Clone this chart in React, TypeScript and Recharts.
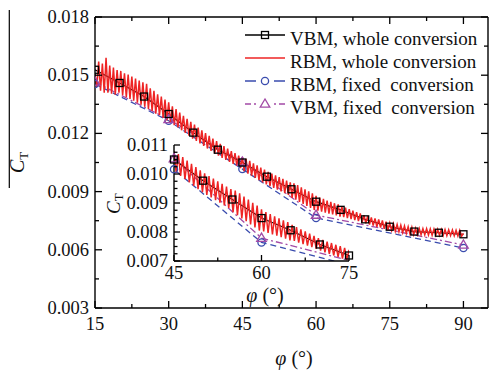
import React from 'react';
import { LineChart, Line, XAxis, YAxis } from 'recharts';

const FONT = '"Liberation Serif", "Times New Roman", serif';
const RED = '#ee2424';
const BLUE = '#3a4cae';
const PURPLE = '#a24aa6';
const BLACK = '#000000';

// ---------- data ----------
// VBM, whole conversion (black squares)
const vbmWholePhi = [15, 20, 25, 30, 35, 40, 45, 50, 55, 60, 65, 70, 75, 80, 85, 90];
const vbmWholeCt = [0.01528, 0.0146, 0.0139, 0.013, 0.01204, 0.01116, 0.0105, 0.00977, 0.00912, 0.00848, 0.00806, 0.00757, 0.00719, 0.00694, 0.00688, 0.0068];

// RBM, fixed conversion (blue circles)
const rbmFixedPhi = [15, 30, 45, 60, 90];
const rbmFixedCt = [0.01455, 0.01265, 0.01016, 0.00764, 0.00609];

// VBM, fixed conversion (purple triangles)
const vbmFixedPhi = [15, 30, 45, 60, 90];
const vbmFixedCt = [0.01465, 0.01272, 0.01053, 0.00779, 0.00625];

// RBM, whole conversion (red, sampled every 0.375 deg from 15 deg)
const rbmWholeStart = 15;
const rbmWholeStep = 0.375;
const rbmWholeCt = [
  0.0151, 0.0144, 0.0157, 0.0142, 0.0156, 0.0141, 0.0159, 0.0141, 0.0155, 0.01405,
  0.0154, 0.014, 0.01526, 0.0141, 0.01522, 0.01397, 0.0151, 0.01387, 0.01503, 0.01378,
  0.01493, 0.01368, 0.01483, 0.01358, 0.01473, 0.01348, 0.01463, 0.01338, 0.01455, 0.01326,
  0.01433, 0.01316, 0.01419, 0.01302, 0.01401, 0.01294, 0.0139, 0.0128, 0.01374, 0.01267,
  0.0136, 0.01255, 0.0134, 0.01243, 0.01325, 0.01231, 0.01307, 0.01216, 0.0129, 0.01203,
  0.01275, 0.01188, 0.0126, 0.01173, 0.01246, 0.01161, 0.0123, 0.01148, 0.01216, 0.01135,
  0.01201, 0.01122, 0.01187, 0.0111, 0.01173, 0.01096, 0.0116, 0.01085, 0.01146, 0.01074,
  0.01134, 0.01063, 0.01121, 0.01053, 0.01109, 0.01043, 0.01098, 0.01032, 0.01086, 0.01021,
  0.01078, 0.01004, 0.01069, 0.00993, 0.01058, 0.00982, 0.01046, 0.00971, 0.01035, 0.00959,
  0.01024, 0.00948, 0.01013, 0.00937, 0.01002, 0.00928, 0.00993, 0.00919, 0.00984, 0.0091,
  0.00975, 0.00901, 0.00966, 0.00892, 0.00957, 0.00883, 0.00948, 0.00868, 0.00943, 0.00858,
  0.00933, 0.00847, 0.00922, 0.00837, 0.00912, 0.00826, 0.00901, 0.00816, 0.00891, 0.00805,
  0.00878, 0.00802, 0.00869, 0.00797, 0.00862, 0.00792, 0.00854, 0.00787, 0.00847, 0.00782,
  0.0084, 0.00777, 0.00834, 0.00771, 0.00825, 0.00769, 0.00817, 0.00763, 0.00809, 0.00758,
  0.00802, 0.00753, 0.00794, 0.00748, 0.00787, 0.00742, 0.00779, 0.00736, 0.00773, 0.0073,
  0.00767, 0.00725, 0.00762, 0.00719, 0.00756, 0.00714, 0.00751, 0.00708, 0.00745, 0.00703,
  0.00738, 0.007, 0.00734, 0.00696, 0.00731, 0.00693, 0.00727, 0.00689, 0.00723, 0.00685,
  0.00719, 0.00681, 0.00716, 0.00678, 0.00711, 0.00678, 0.0071, 0.00678, 0.00709, 0.00677,
  0.00709, 0.00676, 0.00708, 0.00675, 0.00707, 0.00675, 0.00706, 0.00675, 0.00705, 0.00674,
  0.00704, 0.00673, 0.00703, 0.00673, 0.00702, 0.00672, 0.00701, 0.00671, 0.00701, 0.0067,
  0.00685,
];

// axes
const mainXDomain = [15, 95];
const mainXTicks = [15, 22.5, 30, 37.5, 45, 52.5, 60, 67.5, 75, 82.5, 90];
const mainXMajor = [15, 30, 45, 60, 75, 90];
const mainYDomain = [0.003, 0.018];
const mainYTicks = [0.003, 0.0045, 0.006, 0.0075, 0.009, 0.0105, 0.012, 0.0135, 0.015, 0.0165, 0.018];
const mainYMajor = [0.003, 0.006, 0.009, 0.012, 0.015, 0.018];

const insetXDomain = [45, 75];
const insetXTicks = [45, 52.5, 60, 67.5, 75];
const insetXMajor = [45, 60, 75];
const insetYDomain = [0.007, 0.011];
const insetYTicks = [0.007, 0.00725, 0.0075, 0.00775, 0.008, 0.00825, 0.0085, 0.00875, 0.009, 0.00925, 0.0095, 0.00975, 0.01, 0.01025, 0.0105, 0.01075, 0.011];
const insetYMajor = [0.007, 0.008, 0.009, 0.01, 0.011];

const seriesNames = ['VBM, whole conversion', 'RBM, whole conversion', 'RBM, fixed  conversion', 'VBM, fixed  conversion'];

// ---------- tables built from the arrays ----------
const vbmWholeData = vbmWholePhi.map((phi, i) => ({ phi, ct: vbmWholeCt[i] }));
const rbmFixedData = rbmFixedPhi.map((phi, i) => ({ phi, ct: rbmFixedCt[i] }));
const vbmFixedData = vbmFixedPhi.map((phi, i) => ({ phi, ct: vbmFixedCt[i] }));
const rbmWholeData = rbmWholeCt.map((ct, i) => ({ phi: rbmWholeStart + i * rbmWholeStep, ct }));

const inRange = (d: { phi: number; ct: number }) =>
  d.phi >= insetXDomain[0] && d.phi <= insetXDomain[1] && d.ct >= insetYDomain[0] && d.ct <= insetYDomain[1];
const vbmWholeInset = vbmWholeData.filter(inRange);
const rbmFixedInset = rbmFixedData.filter(inRange);
const vbmFixedInset = vbmFixedData.filter(inRange);

// ---------- markers ----------
function SquareDot(p: any) {
  const { cx, cy } = p;
  if (cx == null || cy == null) return null;
  return <rect x={cx - 3.5} y={cy - 3.5} width={7} height={7} fill="none" stroke={BLACK} strokeWidth={1.3} />;
}
function CircleDot(p: any) {
  const { cx, cy } = p;
  if (cx == null || cy == null) return null;
  return <circle cx={cx} cy={cy} r={3.6} fill="none" stroke={BLUE} strokeWidth={1.3} />;
}
function TriangleDot(p: any) {
  const { cx, cy } = p;
  if (cx == null || cy == null) return null;
  return (
    <polygon
      points={`${cx},${cy - 5} ${cx - 4.8},${cy + 3.2} ${cx + 4.8},${cy + 3.2}`}
      fill="none"
      stroke={PURPLE}
      strokeWidth={1.3}
    />
  );
}
const squareDot = (p: any) => <SquareDot key={`sq-${p.index}`} cx={p.cx} cy={p.cy} />;
const circleDot = (p: any) => <CircleDot key={`ci-${p.index}`} cx={p.cx} cy={p.cy} />;
const triangleDot = (p: any) => <TriangleDot key={`tr-${p.index}`} cx={p.cx} cy={p.cy} />;

// ---------- ticks ----------
type Side = 'bottom' | 'top' | 'left' | 'right';
function makeTick(side: Side, majors: number[], majorLen: number, minorLen: number, labels: boolean, fmt: (v: number) => string, offset: number, fontSize: number) {
  return (p: any) => {
    const { x, y, payload, index } = p;
    const v = payload.value as number;
    const isMajor = majors.some((m) => Math.abs(m - v) < 1e-9);
    const len = isMajor ? majorLen : minorLen;
    let x2 = x;
    let y2 = y;
    if (side === 'bottom') y2 = y - len;
    else if (side === 'top') y2 = y + len;
    else if (side === 'left') x2 = x + len;
    else x2 = x - len;
    let label = null;
    if (labels && isMajor) {
      if (side === 'bottom') {
        label = (
          <text x={x} y={y + offset} textAnchor="middle" fontFamily={FONT} fontSize={fontSize} fill="#111">
            {fmt(v)}
          </text>
        );
      } else if (side === 'left') {
        label = (
          <text x={x - offset} y={y} textAnchor="end" dominantBaseline="central" fontFamily={FONT} fontSize={fontSize} fill="#111">
            {fmt(v)}
          </text>
        );
      }
    }
    return (
      <g key={`t-${side}-${index}`}>
        <line x1={x} y1={y} x2={x2} y2={y2} stroke="#000" strokeWidth={1.3} />
        {label}
      </g>
    );
  };
}

const fmtX = (v: number) => String(v);
const fmtY = (v: number) => v.toFixed(3);

const axisLine = { stroke: '#000', strokeWidth: 1.4 };

// ---------- legend ----------
function LegendBox() {
  const rows = [
    { name: seriesNames[0], color: BLACK, dash: undefined as string | undefined, marker: 'square' },
    { name: seriesNames[1], color: RED, dash: undefined, marker: 'none' },
    { name: seriesNames[2], color: BLUE, dash: '11 18', marker: 'circle' },
    { name: seriesNames[3], color: PURPLE, dash: '6 3 2 18 2 3 6', marker: 'triangle' },
  ];
  const top = 35;
  const step = 23;
  return (
    <g>
      {rows.map((r, i) => {
        const y = top + i * step;
        return (
          <g key={r.name}>
            <line x1={245} y1={y} x2={285} y2={y} stroke={r.color} strokeWidth={r.marker === 'none' ? 1.6 : 1.3} strokeDasharray={r.dash} />
            {r.marker === 'square' && <SquareDot cx={265} cy={y} />}
            {r.marker === 'circle' && <CircleDot cx={265} cy={y} />}
            {r.marker === 'triangle' && <TriangleDot cx={265} cy={y} />}
            <text x={290} y={y + 9.5} fontFamily={FONT} fontSize={19} fill="#111" xmlSpace="preserve" style={{ whiteSpace: 'pre' }}>
              {r.name}
            </text>
          </g>
        );
      })}
    </g>
  );
}

export default function App() {
  return (
    <div style={{ position: 'absolute', left: 0, top: 0, width: 490, height: 371, background: '#fff', overflow: 'hidden' }}>
      {/* main chart */}
      <div style={{ position: 'absolute', left: 0, top: 0 }}>
        <LineChart width={490} height={371} margin={{ top: 16, right: 1, bottom: 62, left: 94 }}>
          <XAxis xAxisId="b" type="number" dataKey="phi" domain={mainXDomain} ticks={mainXTicks} interval={0} height={1} tickSize={0} tickMargin={0} tickLine={false} axisLine={axisLine} allowDataOverflow tick={makeTick('bottom', mainXMajor, 7, 4, true, fmtX, 22, 18.5)} />
          <XAxis xAxisId="t" orientation="top" type="number" dataKey="phi" domain={mainXDomain} ticks={mainXTicks} interval={0} height={1} tickSize={0} tickMargin={0} tickLine={false} axisLine={axisLine} allowDataOverflow tick={makeTick('top', mainXMajor, 7, 4, false, fmtX, 0, 18.5)} />
          <YAxis yAxisId="l" type="number" domain={mainYDomain} ticks={mainYTicks} interval={0} width={1} tickSize={0} tickMargin={0} tickLine={false} axisLine={axisLine} allowDataOverflow tick={makeTick('left', mainYMajor, 7, 4, true, fmtY, 6, 18.5)} />
          <YAxis yAxisId="r" orientation="right" type="number" domain={mainYDomain} ticks={mainYTicks} interval={0} width={1} tickSize={0} tickMargin={0} tickLine={false} axisLine={axisLine} allowDataOverflow tick={makeTick('right', mainYMajor, 7, 4, false, fmtY, 0, 18.5)} />
          <Line xAxisId="b" yAxisId="l" name={seriesNames[2]} data={rbmFixedData} dataKey="ct" stroke={BLUE} strokeWidth={1.3} strokeDasharray="6 4" dot={circleDot} isAnimationActive={false} />
          <Line xAxisId="b" yAxisId="l" name={seriesNames[3]} data={vbmFixedData} dataKey="ct" stroke={PURPLE} strokeWidth={1.3} strokeDasharray="7 3 2 3" dot={triangleDot} isAnimationActive={false} />
          <Line xAxisId="b" yAxisId="l" name={seriesNames[0]} data={vbmWholeData} dataKey="ct" stroke={BLACK} strokeWidth={1.2} dot={squareDot} isAnimationActive={false} />
          <Line xAxisId="b" yAxisId="l" name={seriesNames[1]} data={rbmWholeData} dataKey="ct" stroke={RED} strokeWidth={1.5} dot={false} isAnimationActive={false} />
        </LineChart>
      </div>
      {/* inset chart */}
      <div style={{ position: 'absolute', left: 0, top: 0 }}>
        <LineChart width={490} height={371} margin={{ top: 145, right: 141, bottom: 109, left: 173 }}>
          <XAxis xAxisId="ic" type="number" dataKey="phi" domain={insetXDomain} ticks={insetXTicks} interval={0} height={1} tickSize={0} tickMargin={0} tickLine={false} axisLine={axisLine} allowDataOverflow tick={makeTick('bottom', insetXMajor, 6, 3.5, true, fmtX, 18, 18.5)} />
          <YAxis yAxisId="ic" type="number" domain={insetYDomain} ticks={insetYTicks} interval={0} width={1} tickSize={0} tickMargin={0} tickLine={false} axisLine={axisLine} allowDataOverflow tick={makeTick('left', insetYMajor, 6, 3.5, true, fmtY, 6, 18.5)} />
          <XAxis xAxisId="im" type="number" dataKey="phi" domain={insetXDomain} hide />
          <YAxis yAxisId="im" type="number" domain={insetYDomain} hide />
          <Line xAxisId="ic" yAxisId="ic" name={seriesNames[2]} data={rbmFixedData} dataKey="ct" stroke={BLUE} strokeWidth={1.3} strokeDasharray="6 4" dot={false} isAnimationActive={false} />
          <Line xAxisId="ic" yAxisId="ic" name={seriesNames[3]} data={vbmFixedData} dataKey="ct" stroke={PURPLE} strokeWidth={1.3} strokeDasharray="7 3 2 3" dot={false} isAnimationActive={false} />
          <Line xAxisId="ic" yAxisId="ic" name={seriesNames[0]} data={vbmWholeData} dataKey="ct" stroke={BLACK} strokeWidth={1.2} dot={false} isAnimationActive={false} />
          <Line xAxisId="ic" yAxisId="ic" name={seriesNames[1]} data={rbmWholeData} dataKey="ct" stroke={RED} strokeWidth={1.5} dot={false} isAnimationActive={false} />
          <Line xAxisId="im" yAxisId="im" data={rbmFixedInset} dataKey="ct" stroke="none" dot={circleDot} isAnimationActive={false} legendType="none" />
          <Line xAxisId="im" yAxisId="im" data={vbmFixedInset} dataKey="ct" stroke="none" dot={triangleDot} isAnimationActive={false} legendType="none" />
          <Line xAxisId="im" yAxisId="im" data={vbmWholeInset} dataKey="ct" stroke="none" dot={squareDot} isAnimationActive={false} legendType="none" />
        </LineChart>
      </div>
      {/* titles and legend */}
      <svg width={490} height={371} style={{ position: 'absolute', left: 0, top: 0, pointerEvents: 'none' }}>
        <line x1={9.3} y1={10} x2={9.3} y2={188} stroke="#000" strokeWidth={1.2} />
        <text transform="translate(24,173) rotate(-90)" fontFamily={FONT} fontSize={20} fill="#111">
          <tspan fontStyle="italic">C</tspan>
          <tspan fontSize={13} dy={4}>T</tspan>
        </text>
        <text x={294} y={365} textAnchor="middle" fontFamily={FONT} fontSize={20} fill="#111">
          <tspan fontStyle="italic">φ</tspan> (°)
        </text>
        <text transform="translate(120,214) rotate(-90)" fontFamily={FONT} fontSize={19} fill="#111">
          <tspan fontStyle="italic">C</tspan>
          <tspan fontSize={13} dy={3}>T</tspan>
        </text>
        <text x={265} y={302} textAnchor="middle" fontFamily={FONT} fontSize={20} fill="#111">
          <tspan fontStyle="italic">φ</tspan> (°)
        </text>
        <LegendBox />
      </svg>
    </div>
  );
}
